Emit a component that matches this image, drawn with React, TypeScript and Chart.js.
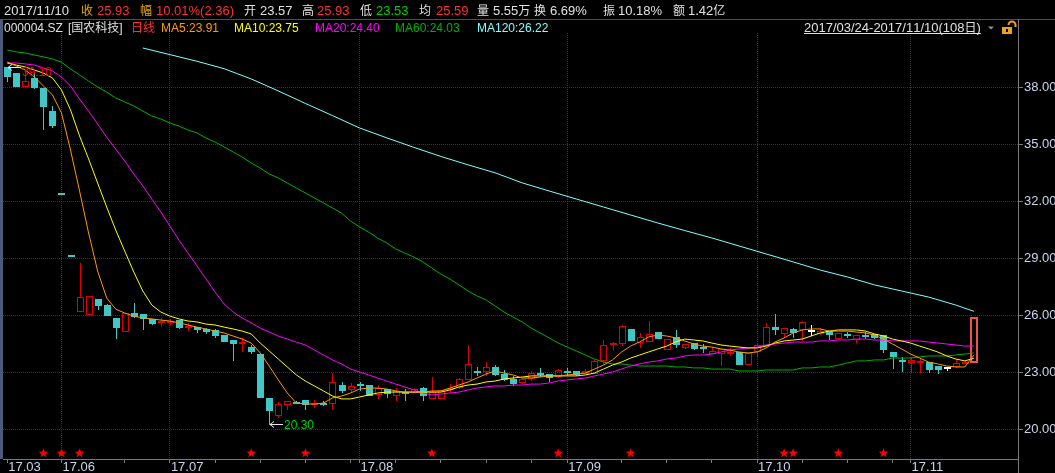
import React, { useEffect, useRef } from 'react';
import { Chart, registerables } from 'chart.js';

Chart.register(...registerables);

// ---------- data ----------
const openP = [
  39.10, 38.76, 38.10, 38.50, 37.97, 36.76, 32.46, 29.19, 26.24, 26.08,
  26.87, 26.55, 25.87, 25.16, 26.13, 26.08, 25.82, 25.70, 25.68, 25.76,
  25.42, 25.39, 25.29, 25.24, 24.97, 24.71, 24.58, 24.34, 23.97, 21.65,
  20.76, 21.34, 21.46, 21.55, 21.37, 21.40, 21.38, 22.34, 22.13, 22.40,
  22.34, 21.87, 22.13, 21.82, 21.98, 21.97, 22.18, 21.65, 21.65, 22.15,
  22.23, 22.65, 23.09, 23.07, 23.28, 22.91, 22.65, 22.49, 22.70, 22.98,
  22.91, 22.81, 23.08, 23.07, 22.96, 22.96, 23.65, 24.52, 24.54, 25.29,
  24.60, 24.65, 25.13, 24.23, 24.86, 24.33, 24.54, 24.35, 24.02, 24.02,
  24.06, 24.07, 23.44, 24.12, 24.44, 25.39, 25.07, 25.29, 25.29, 25.23,
  25.07, 25.18, 24.81, 25.03, 24.76, 24.98, 25.02, 24.96, 24.07, 23.67,
  23.54, 23.58, 23.54, 23.33, 23.28, 23.33, 23.50, 23.57,
];
const highP = [
  39.10, 38.76, 38.80, 38.76, 37.97, 37.03, 32.46, 29.19, 28.76, 27.03,
  26.87, 26.60, 25.87, 26.13, 26.66, 26.08, 25.82, 25.87, 25.82, 25.78,
  25.60, 25.39, 25.34, 25.29, 24.97, 24.71, 24.82, 24.45, 23.97, 21.65,
  21.44, 21.49, 21.50, 21.55, 21.55, 21.50, 22.97, 22.50, 22.45, 22.50,
  22.34, 22.34, 22.13, 22.18, 22.13, 22.18, 22.23, 22.76, 22.10, 22.39,
  22.70, 24.44, 23.28, 23.54, 23.38, 23.12, 22.81, 22.70, 23.07, 23.23,
  22.91, 23.17, 23.23, 23.10, 23.17, 23.65, 24.70, 24.60, 25.49, 25.29,
  25.07, 25.70, 25.13, 24.75, 25.23, 24.52, 24.54, 24.49, 24.33, 24.23,
  24.28, 24.07, 24.02, 24.54, 25.60, 26.08, 25.36, 25.34, 25.70, 25.49,
  25.34, 25.18, 25.10, 25.13, 24.98, 25.13, 25.05, 24.96, 24.07, 23.81,
  23.81, 23.76, 23.56, 23.35, 23.30, 23.65, 23.60, 25.93,
];
const lowP = [
  38.34, 38.07, 38.10, 37.97, 35.82, 35.92, 32.45, 29.18, 26.24, 26.08,
  26.34, 26.03, 24.82, 25.16, 25.92, 25.29, 25.53, 25.45, 25.55, 25.35,
  25.24, 25.13, 25.08, 24.87, 24.66, 23.66, 24.13, 24.03, 21.70, 20.30,
  20.66, 21.07, 21.40, 21.07, 21.18, 21.30, 21.07, 21.97, 21.97, 22.08,
  21.82, 21.65, 21.70, 21.55, 21.55, 21.95, 21.55, 21.65, 21.65, 21.97,
  22.20, 22.65, 22.86, 22.86, 22.86, 22.60, 22.33, 22.44, 22.60, 22.81,
  22.55, 22.76, 22.86, 22.88, 22.96, 22.96, 23.49, 24.18, 24.44, 24.70,
  24.33, 24.65, 24.81, 24.23, 24.33, 24.30, 24.25, 24.07, 24.00, 23.38,
  23.91, 23.44, 23.44, 23.86, 24.44, 25.02, 24.86, 24.86, 24.70, 24.97,
  25.05, 24.76, 24.78, 24.86, 24.60, 24.81, 24.84, 24.07, 23.23, 23.07,
  23.02, 23.02, 23.02, 22.96, 23.12, 23.30, 23.48, 23.53,
];
const closeP = [
  38.59, 38.07, 38.33, 38.03, 37.03, 36.03, 32.45, 29.18, 26.97, 27.03,
  26.55, 26.03, 25.39, 26.13, 25.97, 25.87, 25.61, 25.72, 25.70, 25.39,
  25.45, 25.29, 25.18, 24.97, 24.66, 24.55, 24.61, 24.13, 21.70, 21.02,
  21.34, 21.49, 21.44, 21.34, 21.40, 21.38, 22.50, 22.08, 22.29, 22.38,
  21.82, 22.18, 21.92, 22.03, 21.96, 22.13, 21.82, 21.97, 22.10, 22.18,
  22.65, 23.44, 23.07, 23.28, 22.91, 22.65, 22.44, 22.65, 22.96, 22.96,
  22.75, 23.12, 23.06, 22.91, 23.07, 23.59, 24.44, 24.54, 25.44, 24.70,
  24.86, 25.02, 24.81, 24.75, 24.49, 24.49, 24.28, 24.33, 24.12, 24.23,
  24.08, 23.44, 24.02, 24.44, 25.39, 25.29, 25.34, 25.13, 25.65, 25.23,
  25.18, 25.02, 25.07, 25.01, 24.96, 24.96, 24.86, 24.23, 23.86, 23.65,
  23.65, 23.60, 23.17, 23.17, 23.28, 23.49, 23.57, 25.93,
];

const ma5 = [
  39.34, 39.13, 38.92, 38.55, 38.08, 37.61, 36.66, 34.71, 32.55, 30.34,
  28.34, 26.92, 26.34, 26.13, 25.97, 25.87, 25.82, 25.76, 25.71, 25.61,
  25.50, 25.39, 25.29, 25.18, 25.08, 24.92, 24.76, 24.55, 24.03, 23.34,
  22.61, 21.92, 21.39, 21.34, 21.34, 21.39, 21.66, 21.76, 21.92, 22.13,
  22.18, 22.18, 22.13, 22.03, 21.97, 21.97, 21.97, 22.03, 22.03, 22.18,
  22.34, 22.50, 22.71, 22.92, 23.08, 22.97, 22.87, 22.71, 22.71, 22.76,
  22.82, 22.82, 22.87, 22.92, 22.97, 23.18, 23.39, 23.66, 24.08, 24.39,
  24.61, 24.87, 24.97, 24.92, 24.82, 24.66, 24.50, 24.39, 24.34, 24.24,
  24.18, 24.08, 24.03, 24.08, 24.29, 24.61, 24.82, 25.08, 25.24, 25.29,
  25.29, 25.18, 25.18, 25.18, 25.13, 25.08, 24.97, 24.76, 24.50, 24.24,
  23.97, 23.76, 23.55, 23.45, 23.34, 23.29, 23.29, 23.91,
];
const ma10 = [
  39.29, 39.18, 39.08, 38.92, 38.76, 38.50, 37.87, 36.82, 35.45, 34.24,
  32.97, 31.71, 30.50, 29.39, 28.29, 27.29, 26.55, 26.18, 25.97, 25.82,
  25.71, 25.66, 25.55, 25.50, 25.39, 25.29, 25.18, 25.03, 24.55, 24.13,
  23.71, 23.29, 22.87, 22.55, 22.29, 22.03, 21.76, 21.61, 21.61, 21.71,
  21.82, 21.92, 21.97, 21.97, 21.97, 21.97, 21.97, 21.97, 21.97, 22.08,
  22.24, 22.34, 22.39, 22.50, 22.55, 22.66, 22.71, 22.76, 22.82, 22.82,
  22.82, 22.82, 22.82, 22.82, 22.87, 22.97, 23.18, 23.39, 23.55, 23.76,
  23.92, 24.08, 24.24, 24.39, 24.61, 24.76, 24.71, 24.66, 24.55, 24.45,
  24.39, 24.34, 24.29, 24.29, 24.39, 24.55, 24.66, 24.71, 24.76, 24.92,
  25.08, 25.18, 25.24, 25.24, 25.24, 25.18, 25.03, 24.92, 24.76, 24.66,
  24.55, 24.39, 24.24, 24.08, 23.87, 23.71, 23.61, 23.75,
];
const ma20 = [
  39.29, 39.29, 39.24, 39.18, 39.03, 38.87, 38.55, 38.08, 37.39, 36.76,
  36.08, 35.39, 34.76, 34.13, 33.45, 32.82, 32.13, 31.45, 30.71, 29.97,
  29.29, 28.61, 27.92, 27.24, 26.61, 26.18, 25.87, 25.61, 25.34, 25.13,
  24.92, 24.76, 24.60, 24.45, 24.18, 23.92, 23.66, 23.45, 23.18, 23.03,
  22.87, 22.71, 22.55, 22.39, 22.24, 22.08, 21.92, 21.82, 21.87, 21.92,
  21.97, 22.08, 22.18, 22.24, 22.29, 22.29, 22.34, 22.34, 22.39, 22.39,
  22.45, 22.55, 22.61, 22.66, 22.71, 22.82, 22.92, 23.03, 23.18, 23.34,
  23.45, 23.55, 23.61, 23.71, 23.76, 23.87, 23.92, 23.92, 23.97, 24.08,
  24.18, 24.24, 24.29, 24.34, 24.45, 24.50, 24.55, 24.60, 24.60, 24.60,
  24.66, 24.66, 24.71, 24.71, 24.76, 24.76, 24.71, 24.71, 24.66, 24.66,
  24.66, 24.66, 24.60, 24.55, 24.50, 24.45, 24.39, 24.40,
];
const ma60 = [
  39.97, 39.87, 39.82, 39.71, 39.61, 39.50, 39.34, 38.97, 38.66, 38.34,
  38.03, 37.76, 37.45, 37.24, 37.03, 36.76, 36.50, 36.34, 36.13, 35.97,
  35.76, 35.61, 35.34, 35.13, 34.87, 34.61, 34.34, 34.03, 33.76, 33.45,
  33.24, 32.97, 32.71, 32.45, 32.18, 31.92, 31.66, 31.39, 30.97, 30.66,
  30.39, 30.08, 29.82, 29.50, 29.29, 29.08, 28.82, 28.50, 28.18, 27.92,
  27.61, 27.29, 27.03, 26.82, 26.50, 26.18, 25.92, 25.66, 25.34, 25.08,
  24.82, 24.55, 24.34, 24.13, 23.92, 23.71, 23.55, 23.45, 23.45, 23.39,
  23.34, 23.34, 23.34, 23.34, 23.29, 23.29, 23.24, 23.24, 23.18, 23.18,
  23.18, 23.08, 23.08, 23.08, 23.13, 23.13, 23.13, 23.13, 23.24, 23.24,
  23.29, 23.29, 23.39, 23.50, 23.61, 23.61, 23.66, 23.66, 23.76, 23.76,
  23.76, 23.82, 23.87, 23.87, 23.87, 23.92, 23.97, 24.03,
];
const ma120Idx = [15, 18, 21, 24, 27, 30, 33, 36, 39, 42, 45, 48, 51, 54, 57, 60,
  63, 66, 69, 72, 75, 78, 81, 84, 87, 90, 93, 96, 99, 102, 105, 107];
const ma120 = [40.08, 39.73, 39.38, 38.99, 38.45, 37.82, 37.16, 36.52, 35.87, 35.35,
  34.85, 34.37, 33.93, 33.51, 32.98, 32.55, 32.13, 31.71, 31.29, 30.87, 30.47, 30.08,
  29.66, 29.24, 28.82, 28.39, 28.03, 27.61, 27.29, 26.97, 26.55, 26.22];

const starIdx = [4, 6, 8, 27, 33, 47, 61, 69, 86, 87, 92, 97];
const starLevel = 18.75;

const monthIdx = [0, 6, 18, 39, 62, 83, 100];
const monthLabels = ['17.03', '17.06', '17.07', '17.08', '17.09', '17.10', '17.11'];
const minorIdx = [13, 23, 28, 33, 38, 43, 48, 53, 58, 68, 73, 78, 88, 93, 98];
const yTicks = [20, 23, 26, 29, 32, 35, 38];

const headerDate = '2017/11/10';
const avgPrice = '25.59';
const volume = '5.55万';
const turnover = '6.69%';
const amount = '1.42亿';
const stockCode = '000004.SZ';
const stockName = '[国农科技]';
const periodName = '日线';
const maNames = ['MA5', 'MA10', 'MA20', 'MA60', 'MA120'];
const maLast = ['23.91', '23.75', '24.40', '24.03', '26.22'];
const rangeText = '2017/03/24-2017/11/10(108日)';

// ---------- styling ----------
const FONT = '"Liberation Sans", "Noto Sans CJK SC", sans-serif';
const RED = '#e00000';
const LAST_RED = '#f05050';
const CYAN = '#40c8c8';
const WHITE_TXT = '#e0e0e0';
const GOLD = '#e8a800';
const TXT_RED = '#ff3030';
const TXT_GREEN = '#00d000';
const GRID_RED = '#b00000';
const AXIS_GRAY = '#7a7a7a';
const LABEL = '#c8d4ec';
const maColors = ['#ff9900', '#ffff00', '#ff00ff', '#00b000', '#80ffff'];

const xMin = -0.476;
const xMax = 111.89;
const yMin = 18.447;
const yMax = 40.868;

const isCjk = (ch: string) => /[\u3000-\u9fff\uff00-\uffef]/.test(ch);

const drawMixed = (ctx: CanvasRenderingContext2D, text: string, x: number, y: number, latin: number, cjk: number) => {
  let cx = x;
  for (const ch of text) {
    ctx.font = (isCjk(ch) ? cjk : latin) + 'px ' + FONT;
    ctx.fillText(ch, cx, y);
    cx += ctx.measureText(ch).width;
  }
  return cx - x;
};

const candlePlugin = {
  id: 'candles',
  beforeDatasetsDraw(chart: any) {
    const { ctx, chartArea: a } = chart;
    const xs = chart.scales.x;
    const ys = chart.scales.y;
    const n = closeP.length;
    ctx.save();
    ctx.beginPath();
    ctx.rect(a.left, a.top, a.right - a.left, a.bottom - a.top);
    ctx.clip();
    for (let i = 0; i < n; i++) {
      const o = openP[i], h = highP[i], l = lowP[i], c = closeP[i];
      const cx = Math.round(xs.getPixelForValue(i));
      const yo = ys.getPixelForValue(o);
      const yc = ys.getPixelForValue(c);
      const yh = Math.round(ys.getPixelForValue(h));
      const yl = Math.round(ys.getPixelForValue(l));
      const top = Math.round(Math.min(yo, yc));
      const bot = Math.round(Math.max(yo, yc));
      const last = i === n - 1;
      const color = c > o ? (last ? LAST_RED : RED) : c < o ? CYAN : '#ffffff';
      ctx.fillStyle = color;
      ctx.strokeStyle = color;
      const hgt = bot - top;
      if (top > yh) ctx.fillRect(cx, yh, 1, top - yh);
      if (yl > bot) ctx.fillRect(cx, bot, 1, yl - bot + 1);
      if (hgt < 2) {
        ctx.fillRect(cx - 3, top, 7, 2);
      } else if (c > o) {
        if (last) {
          ctx.lineWidth = 2;
          ctx.strokeRect(cx - 3, top + 1, 6, hgt - 1);
        } else {
          ctx.lineWidth = 1;
          ctx.strokeRect(cx - 3 + 0.5, top + 0.5, 6, hgt);
        }
      } else {
        ctx.fillRect(cx - 3, top, 7, hgt + 1);
      }
    }
    ctx.restore();
  },
  afterDatasetsDraw(chart: any) {
    const { ctx } = chart;
    const xs = chart.scales.x;
    const ys = chart.scales.y;
    ctx.save();
    // stars
    ctx.fillStyle = '#ff0000';
    const sy = ys.getPixelForValue(starLevel);
    for (const i of starIdx) {
      const sx = xs.getPixelForValue(i);
      ctx.beginPath();
      for (let k = 0; k < 10; k++) {
        const r = k % 2 === 0 ? 5 : 2.1;
        const ang = -Math.PI / 2 + (k * Math.PI) / 5;
        const px = sx + r * Math.cos(ang);
        const py = sy + r * Math.sin(ang);
        if (k === 0) ctx.moveTo(px, py); else ctx.lineTo(px, py);
      }
      ctx.closePath();
      ctx.fill();
    }
    // max / min markers
    let hi = 0, lo = 0;
    for (let i = 1; i < highP.length; i++) {
      if (highP[i] > highP[hi]) hi = i;
      if (lowP[i] < lowP[lo]) lo = i;
    }
    const marker = (i: number, v: number, color: string, dy: number) => {
      const px = Math.round(xs.getPixelForValue(i));
      const py = Math.round(ys.getPixelForValue(v)) + 0.5;
      ctx.strokeStyle = '#e8e8e8';
      ctx.lineWidth = 1;
      ctx.beginPath();
      ctx.moveTo(px + 1, py);
      ctx.lineTo(px + 14, py);
      ctx.moveTo(px + 1, py);
      ctx.lineTo(px + 5, py - 3);
      ctx.moveTo(px + 1, py);
      ctx.lineTo(px + 5, py + 3);
      ctx.stroke();
      ctx.fillStyle = color;
      ctx.font = '12px ' + FONT;
      ctx.textBaseline = 'alphabetic';
      ctx.textAlign = 'left';
      ctx.fillText(v.toFixed(2), px + 15, py + dy);
    };
    marker(hi, highP[hi], '#ff0000', 8.5);
    marker(lo, lowP[lo], '#00d000', 4.5);
    ctx.restore();
  },
};

const decorPlugin = {
  id: 'decor',
  beforeDraw(chart: any) {
    const { ctx, width, height } = chart;
    ctx.save();
    ctx.fillStyle = '#000000';
    ctx.fillRect(0, 0, width, height);
    ctx.restore();
  },
  afterDraw(chart: any) {
    const { ctx, width, height, chartArea: a } = chart;
    ctx.save();
    ctx.fillStyle = '#505050';
    ctx.fillRect(0, 19, width, 1);
    ctx.fillStyle = AXIS_GRAY;
    ctx.fillRect(Math.round(a.right), 19, 1, height - 19);
    ctx.fillStyle = '#4a5a78';
    ctx.fillRect(0, 20, 3, Math.round(a.bottom) - 20);

    const n = closeP.length;
    const lc = closeP[n - 1];
    const pc = closeP[n - 2];
    const chg = lc - pc;
    const pct = (chg / pc) * 100;
    const amp = ((highP[n - 1] - lowP[n - 1]) / pc) * 100;

    const row1: [number, string, string][] = [
      [4, headerDate, WHITE_TXT],
      [81, '收', GOLD],
      [97, lc.toFixed(2), TXT_RED],
      [140, '幅', GOLD],
      [156, pct.toFixed(2) + '%(' + chg.toFixed(2) + ')', TXT_RED],
      [244, '开', WHITE_TXT],
      [260, openP[n - 1].toFixed(2), WHITE_TXT],
      [302, '高', WHITE_TXT],
      [317, highP[n - 1].toFixed(2), TXT_RED],
      [360, '低', WHITE_TXT],
      [376, lowP[n - 1].toFixed(2), TXT_GREEN],
      [419, '均', WHITE_TXT],
      [436, avgPrice, TXT_RED],
      [477, '量', WHITE_TXT],
      [493, volume, WHITE_TXT],
      [534, '换', WHITE_TXT],
      [550, turnover, WHITE_TXT],
      [603, '振', WHITE_TXT],
      [618, amp.toFixed(2) + '%', WHITE_TXT],
      [673, '额', WHITE_TXT],
      [688, amount, WHITE_TXT],
    ];
    ctx.textBaseline = 'alphabetic';
    ctx.textAlign = 'left';
    for (const [x, t, c] of row1) {
      ctx.fillStyle = c;
      drawMixed(ctx, t, x, 14.5, 13, 12);
    }

    const row2: [number, string, string][] = [
      [4, stockCode, WHITE_TXT],
      [68, stockName, WHITE_TXT],
      [131, periodName, TXT_RED],
    ];
    const maX = [161, 234, 315, 395, 477];
    for (let k = 0; k < maNames.length; k++) {
      row2.push([maX[k], maNames[k] + ':' + maLast[k], maColors[k]]);
    }
    for (const [x, t, c] of row2) {
      ctx.fillStyle = c;
      drawMixed(ctx, t, x, 32, 12, 12);
    }

    // date range (underlined)
    ctx.fillStyle = WHITE_TXT;
    const w = drawMixed(ctx, rangeText, 804, 32, 13, 12);
    ctx.fillRect(804, 33, w, 1);
    // dropdown triangle
    ctx.fillStyle = '#909090';
    ctx.beginPath();
    ctx.moveTo(988, 26.5);
    ctx.lineTo(994, 26.5);
    ctx.lineTo(991, 29.5);
    ctx.closePath();
    ctx.fill();
    // lock icon
    ctx.fillStyle = '#f0a020';
    ctx.fillRect(1002, 27, 10, 7);
    ctx.strokeStyle = '#f0a020';
    ctx.lineWidth = 2;
    ctx.beginPath();
    ctx.arc(1012, 25, 3.5, Math.PI, 0);
    ctx.lineTo(1015.5, 27);
    ctx.stroke();
    ctx.fillStyle = '#000000';
    ctx.fillRect(1006, 29, 2, 3);
    ctx.restore();
  },
};

export default function App() {
  const ref = useRef<HTMLCanvasElement | null>(null);
  useEffect(() => {
    if (!ref.current) return;
    const line = (arr: (number | null)[], color: string, idx?: number[]) => ({
      data: arr.map((v, i) => ({ x: idx ? idx[i] : i, y: v })),
      borderColor: color,
      borderWidth: 1,
      pointRadius: 0,
      tension: 0,
      fill: false,
      spanGaps: true,
    });
    const chart = new Chart(ref.current, {
      type: 'line',
      data: {
        datasets: [
          line(ma5, maColors[0]),
          line(ma10, maColors[1]),
          line(ma20, maColors[2]),
          line(ma60, maColors[3]),
          line(ma120, maColors[4], ma120Idx),
        ] as any,
      },
      options: {
        responsive: false,
        animation: false,
        devicePixelRatio: 1,
        events: [],
        layout: { padding: { left: 3, top: 33, right: 0, bottom: 0 } },
        plugins: { legend: { display: false }, tooltip: { enabled: false } },
        scales: {
          x: {
            type: 'linear',
            position: 'bottom',
            min: xMin,
            max: xMax,
            afterBuildTicks: (axis: any) => {
              axis.ticks = [...monthIdx, ...minorIdx].sort((p, q) => p - q).map((v) => ({ value: v }));
            },
            afterFit: (axis: any) => {
              axis.height = 14;
            },
            ticks: {
              autoSkip: false,
              maxRotation: 0,
              minRotation: 0,
              align: 'start',
              labelOffset: 1,
              padding: -3,
              color: LABEL,
              font: { family: FONT, size: 13 },
              callback: (value: any) => {
                const k = monthIdx.indexOf(Number(value));
                return k >= 0 ? monthLabels[k] : '';
              },
            },
            grid: {
              color: (c: any) => (c.tick && monthIdx.indexOf(c.tick.value) > 0 ? GRID_RED : 'rgba(0,0,0,0)'),
              tickColor: AXIS_GRAY,
              tickLength: 4,
              lineWidth: 1,
              tickWidth: 1,
              drawOnChartArea: true,
            },
            border: { display: true, color: AXIS_GRAY, width: 1, dash: [1, 1] },
          },
          y: {
            type: 'linear',
            position: 'right',
            min: yMin,
            max: yMax,
            afterBuildTicks: (axis: any) => {
              axis.ticks = yTicks.map((v) => ({ value: v }));
            },
            afterFit: (axis: any) => {
              axis.width = 37;
            },
            ticks: {
              autoSkip: false,
              padding: 1,
              color: LABEL,
              font: { family: FONT, size: 13 },
              callback: (value: any) => Number(value).toFixed(2),
            },
            grid: {
              color: GRID_RED,
              tickColor: AXIS_GRAY,
              tickLength: 5,
              lineWidth: 1,
              tickWidth: 1,
            },
            border: { display: true, color: AXIS_GRAY, width: 1, dash: [1, 1] },
          },
        },
      } as any,
      plugins: [decorPlugin, candlePlugin],
    });
    return () => chart.destroy();
  }, []);
  return (
    <div style={{ position: 'fixed', left: 0, top: 0, width: 1055, height: 473, background: '#000', overflow: 'hidden' }}>
      <canvas ref={ref} width={1055} height={473} style={{ display: 'block', width: 1055, height: 473 }} />
    </div>
  );
}
